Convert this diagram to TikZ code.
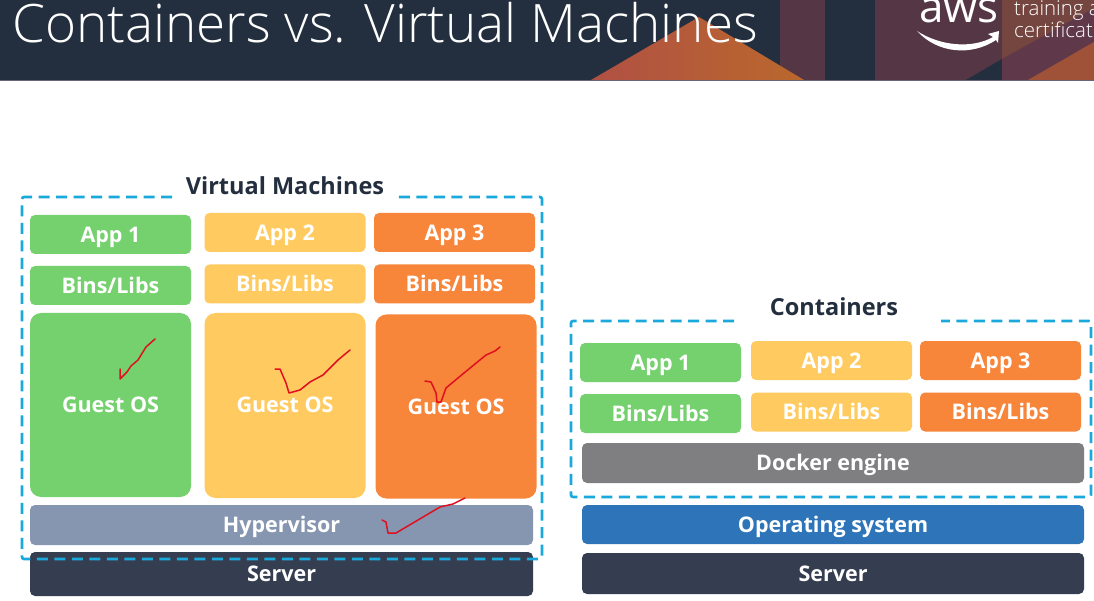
\documentclass[tikz,border=0pt]{standalone}
\usepackage{fontspec}
\setmainfont{Open Sans}
\newfontfamily\lightfont[UprightFont=* Light]{Open Sans}
\definecolor{hdr}{HTML}{232F3E}
\definecolor{grn}{HTML}{75D16E}
\definecolor{yel}{HTML}{FFCB60}
\definecolor{org}{HTML}{F7853A}
\definecolor{hyp}{HTML}{8796B0}
\definecolor{srv}{HTML}{353D50}
\definecolor{gry}{HTML}{7F7F82}
\definecolor{blu}{HTML}{2E74B8}
\definecolor{dashc}{HTML}{1AA9DC}
\definecolor{ink}{HTML}{E01020}
\definecolor{plum}{HTML}{543644}
\definecolor{rust}{HTML}{754640}
\definecolor{violet}{HTML}{5F384A}
\definecolor{ember}{HTML}{A05238}
\definecolor{triL}{HTML}{B05044}
\definecolor{triR}{HTML}{BA682C}
\definecolor{hdrline}{HTML}{6A6478}
\tikzset{
 tile/.style={rounded corners=5pt,inner sep=0pt,text=white,text height=15.4pt,text depth=0pt,font=\fontsize{21.5}{24}\selectfont\bfseries},
 bigtile/.style={tile,rounded corners=11pt},
 frame/.style={draw=dashc,line width=2.6pt,dash pattern=on 11pt off 6.5pt,rounded corners=2pt},
 heading/.style={inner sep=0pt,text=hdr,text height=16.8pt,text depth=0pt,font=\fontsize{23.5}{26}\selectfont\bfseries},
 tick/.style={draw=ink,line width=1.5pt,line join=round,line cap=round},
 hdrtext/.style={inner sep=0pt,text=white,anchor=base west}
}
\begin{document}
\begin{tikzpicture}[x=1pt,y=-1pt]
\useasboundingbox (0,0) rectangle (1094,601);
\fill[white] (0,0) rectangle (1094,601);
% header band
\fill[hdr] (0,0) rectangle (1094,80);
\fill[plum] (780,0) rectangle (825,80);
\shade[left color=triL,right color=triR] (591,80) -- (699,17) -- (804,80) -- cycle;
\fill[plum] (875,0) rectangle (1094,80);
\fill[rust] (1002,0) rectangle (1094,80);
\fill[hdr] (966,80) -- (1002,59) -- (1002,80) -- cycle;
\fill[violet] (1002,59) -- (1094,8) -- (1094,42) -- (1028,80) -- (1002,80) -- cycle;
\fill[ember] (1028,80) -- (1094,42) -- (1094,80) -- cycle;
\fill[hdrline] (0,80) rectangle (1094,81);
\node[hdrtext] (title) at (12,42.5) {\lightfont\fontsize{53}{60}\selectfont Containers vs. Virtual Machines};
\node[hdrtext] (awslogo) at (919,23) {\fontsize{44}{44}\selectfont aws};
\node[hdrtext] (tr1) at (1014,15.5) {\lightfont\fontsize{20.5}{22}\selectfont training a};
\node[hdrtext] (tr2) at (1014,37.5) {\lightfont\fontsize{20.5}{22}\selectfont certificat};
\fill[white] (917,31) .. controls (940,46) and (972,49) .. (993,37) -- (988,34) -- (999,31) -- (998,43) -- (996,40) .. controls (972,56) and (938,54) .. (917,31) -- cycle;
% headings
\node[heading] (vmh) at (285,186.5) {Virtual Machines};
\node[heading] (ch) at (834,307.5) {Containers};
% VM column
\node[tile,fill=grn,minimum width=161pt,minimum height=39pt] (a1) at (110.5,234.5) {App 1};
\node[tile,fill=yel,minimum width=161pt,minimum height=39pt] (a2) at (285,232.5) {App 2};
\node[tile,fill=org,minimum width=161pt,minimum height=39pt] (a3) at (454.5,232.5) {App 3};
\node[tile,fill=grn,minimum width=161pt,minimum height=39pt] (b1) at (110.5,285.5) {Bins/Libs};
\node[tile,fill=yel,minimum width=161pt,minimum height=39pt] (b2) at (285,284) {Bins/Libs};
\node[tile,fill=org,minimum width=161pt,minimum height=39pt] (b3) at (454.5,284) {Bins/Libs};
\node[bigtile,fill=grn,minimum width=161pt,minimum height=184pt] (g1) at (110.5,405) {};
\node[bigtile,fill=yel,minimum width=161pt,minimum height=185pt] (g2) at (285,405.5) {};
\node[bigtile,fill=org,minimum width=161pt,minimum height=184pt] (g3) at (456,406.5) {};
\node[tile] (g1t) at (110.5,404.5) {Guest OS};
\node[tile] (g2t) at (285,405) {Guest OS};
\node[tile] (g3t) at (456,406.5) {Guest OS};
\node[tile,fill=hyp,minimum width=503pt,minimum height=40pt] (hv) at (281.5,525) {Hypervisor};
\node[tile,fill=srv,minimum width=503pt,minimum height=44pt] (s1) at (281.5,574) {Server};
% containers column
\node[tile,fill=grn,minimum width=161pt,minimum height=39pt] (ca1) at (660.5,362.5) {App 1};
\node[tile,fill=yel,minimum width=161pt,minimum height=39pt] (ca2) at (831.5,360.5) {App 2};
\node[tile,fill=org,minimum width=161pt,minimum height=39pt] (ca3) at (1000.5,360.5) {App 3};
\node[tile,fill=grn,minimum width=161pt,minimum height=39pt] (cb1) at (660.5,413.5) {Bins/Libs};
\node[tile,fill=yel,minimum width=161pt,minimum height=39pt] (cb2) at (831.5,412) {Bins/Libs};
\node[tile,fill=org,minimum width=161pt,minimum height=39pt] (cb3) at (1000.5,412) {Bins/Libs};
\node[tile,fill=gry,minimum width=502pt,minimum height=40pt] (de) at (833,463) {Docker engine};
\node[tile,fill=blu,minimum width=502pt,minimum height=39pt] (os) at (833,524.5) {Operating system};
\node[tile,fill=srv,minimum width=502pt,minimum height=41pt] (s2) at (833,573.5) {Server};
% dashed frames
\draw[frame] (172,197) -- (22,197) -- (22,559) -- (542,559) -- (542,197) -- (394,197);
\draw[frame] (734,321) -- (571,321) -- (571,497) -- (1091,497) -- (1091,321) -- (941,321);
% red hand-drawn ticks
\draw[tick] (155,339) -- (146,347) -- (138,360) -- (131,366) -- (127,372) -- (120,379) -- (120,369);
\draw[tick] (350,350) -- (338,360) -- (323,375) -- (310,382) -- (300,390) -- (289,393) -- (286,383) -- (280,369) -- (275,369);
\draw[tick] (500,347) -- (495,351) -- (486,355) -- (464,373) -- (446,388) -- (441,402) -- (437,402) -- (436,393) -- (431,382) -- (425,381);
\draw[tick] (465,498) -- (453,504) -- (440,507) -- (396,533) -- (388,533) -- (386,522) -- (382,520);
\end{tikzpicture}
\end{document}
